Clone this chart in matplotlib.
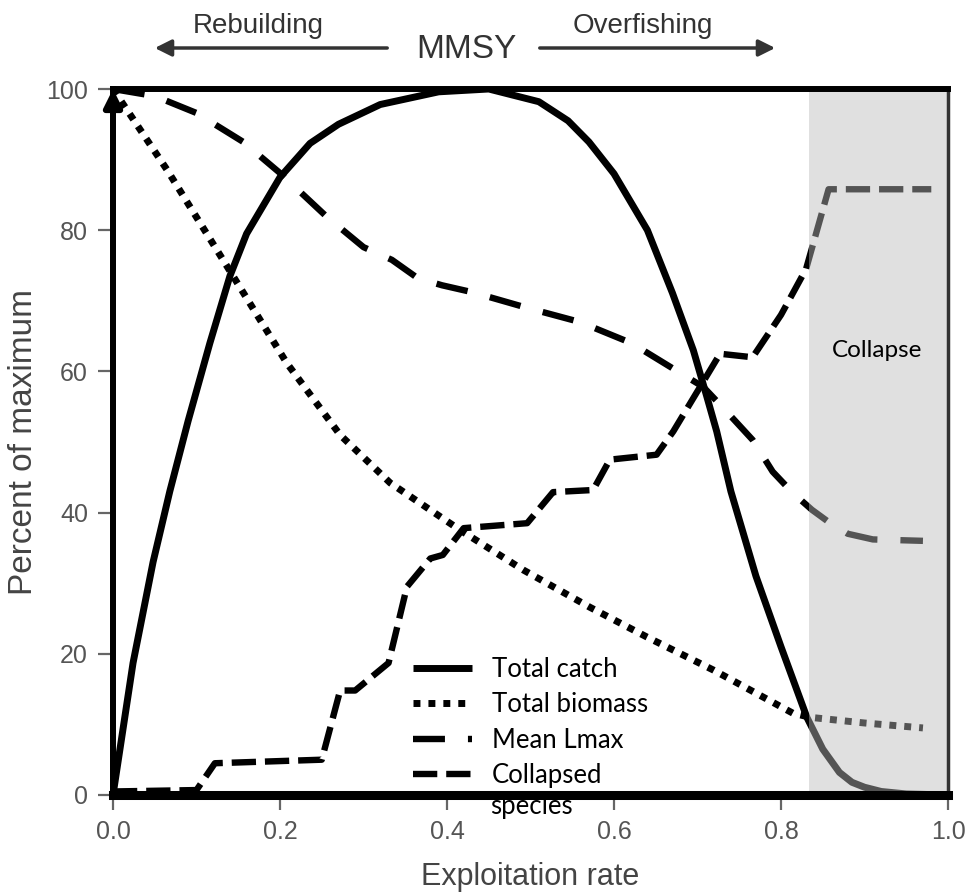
import matplotlib

matplotlib.use("Agg")
import matplotlib.pyplot as plt
from matplotlib.patches import FancyArrowPatch

# ---- data ----
catch_x = [0, 0.024, 0.048, 0.068, 0.09, 0.116, 0.14, 0.16, 0.2, 0.236, 0.27,
           0.32, 0.39, 0.45, 0.51, 0.545, 0.57, 0.6, 0.64, 0.67, 0.695, 0.711,
           0.723, 0.74, 0.77, 0.8, 0.831, 0.85, 0.87, 0.885, 0.9, 0.92, 0.95, 1.0]
catch_y = [0, 18.7, 33, 43, 53, 64, 73.5, 79.5, 87.5, 92.3, 95,
           97.8, 99.6, 100, 98.2, 95.5, 92.5, 88, 80, 71.1, 63, 56.5,
           51.5, 43, 31, 21, 11, 6.5, 3.2, 1.8, 1.1, 0.5, 0.15, 0]

biomass_x = [0, 0.065, 0.137, 0.208, 0.272, 0.332, 0.416, 0.491, 0.571, 0.639,
             0.719, 0.814, 0.835, 0.9, 0.97]
biomass_y = [100, 88.5, 74.8, 61.2, 51, 44.2, 37.5, 31.9, 26.6, 22.4,
             17.7, 11.6, 11, 10.2, 9.5]

lmax_x = [0, 0.05, 0.1, 0.156, 0.2, 0.256, 0.3, 0.334, 0.365, 0.394, 0.431,
          0.496, 0.559, 0.621, 0.679, 0.707, 0.731, 0.766, 0.79, 0.814, 0.837,
          0.859, 0.88, 0.91, 0.97]
lmax_y = [100, 99, 96.6, 92.5, 88.1, 81.9, 77.6, 75.8, 73.2, 72.2, 71.2,
          69, 67, 64, 59.8, 57.8, 54.8, 50.3, 45.8, 42.8, 40.4,
          38.5, 37, 36.2, 36]

collapsed_x = [0, 0.1, 0.122, 0.25, 0.272, 0.29, 0.33, 0.352, 0.38, 0.395, 0.42,
               0.496, 0.527, 0.575, 0.595, 0.651, 0.671, 0.727, 0.766, 0.8, 0.83,
               0.857, 0.98]
collapsed_y = [0.5, 0.7, 4.5, 5.0, 14.8, 14.8, 18.7, 29.5, 33.5, 34, 37.8,
               38.5, 42.9, 43.2, 47.5, 48.2, 51.5, 62.5, 62, 68, 74.5,
               85.8, 85.8]

collapse_start = 0.833
x_ticks = [0.0, 0.2, 0.4, 0.6, 0.8, 1.0]
y_ticks = [0, 20, 40, 60, 80, 100]
legend_labels = ["Total catch", "Total biomass", "Mean Lmax", "Collapsed"]

SANS = ["Liberation Sans", "DejaVu Sans"]
CAL = ["Lato", "DejaVu Sans"]

fig = plt.figure(figsize=(9.71, 8.93), dpi=100)
ax = fig.add_axes([113 / 971, 1 - 795 / 893, 835 / 971, 706 / 893])
ax.set_xlim(0, 1)
ax.set_ylim(0, 100)

# curves
l1, = ax.plot(catch_x, catch_y, color="black", lw=5, solid_capstyle="butt",
              solid_joinstyle="round", zorder=2)
l2, = ax.plot(biomass_x, biomass_y, color="black", lw=5,
              dashes=(1, 1.15), dash_capstyle="butt", zorder=2)
l3, = ax.plot(lmax_x, lmax_y, color="black", lw=4.6,
              dashes=(5, 3.6), dash_capstyle="butt", zorder=2)
l4, = ax.plot(collapsed_x, collapsed_y, color="black", lw=4.6,
              dashes=(3.8, 1.4), dash_capstyle="butt", zorder=2)

# collapse region: translucent grey on top of the lines
ax.axvspan(collapse_start, 1.0, color=(187 / 255,) * 3, alpha=0.455, lw=0,
           zorder=2.2)
ax.text(0.915, 63, "Collapse", ha="center", va="center", fontsize=17.5,
        family=CAL, color="black", zorder=3)

# frame
for side in ["left", "top"]:
    ax.spines[side].set_linewidth(4.3)
    ax.spines[side].set_color("black")
ax.spines["bottom"].set_linewidth(6.5)
ax.spines["bottom"].set_color("black")
ax.spines["right"].set_linewidth(2.5)
ax.spines["right"].set_color("#333333")
ax.annotate("", xy=(0, 100), xytext=(0, 0),
            arrowprops=dict(arrowstyle="-|>", lw=4.3, color="black",
                            mutation_scale=26, shrinkA=0, shrinkB=0),
            annotation_clip=False, zorder=4)

ax.set_xticks(x_ticks)
ax.set_xticklabels([f"{t:.1f}" for t in x_ticks])
ax.set_yticks(y_ticks)
ax.set_yticklabels([str(t) for t in y_ticks])
ax.tick_params(axis="both", length=11, width=1.6, color="#666666",
               labelcolor="#555555", labelsize=18, pad=7)
for lab in ax.get_xticklabels() + ax.get_yticklabels():
    lab.set_family(SANS)

ax.set_xlabel("Exploitation rate", fontsize=22, color="#444444", family=SANS,
              va="center")
ax.set_ylabel("Percent of maximum", fontsize=24, color="#444444", family=SANS,
              va="center", ha="center")
ax.xaxis.set_label_coords(0.5, -0.116)
ax.yaxis.set_label_coords(-0.107, 0.5)

# legend
leg = ax.legend([l1, l2, l3, l4], legend_labels, loc="upper left",
                bbox_to_anchor=(0.332, 0.228), frameon=False,
                handlelength=2.3, handletextpad=0.75, labelspacing=0.4,
                prop={"family": CAL, "size": 18.5})
leg.set_zorder(5)
ax.text(0.452, -0.016, "species", transform=ax.transAxes, ha="left",
        va="center", fontsize=18.5, family=CAL, color="black", zorder=5,
        clip_on=False)

# MMSY header with arrows
fig.text(258 / 971, 1 - 26 / 893, "Rebuilding", ha="center", va="center",
         fontsize=20, color="#333333", family=SANS)
fig.text(643 / 971, 1 - 26 / 893, "Overfishing", ha="center", va="center",
         fontsize=20, color="#333333", family=SANS)
fig.text(466 / 971, 1 - 49 / 893, "MMSY", ha="center", va="center",
         fontsize=24, color="#333333", family=SANS)
arrow_y = 1 - 48 / 893
fig.add_artist(FancyArrowPatch(
    (390 / 971, arrow_y), (152 / 971, arrow_y), transform=fig.transFigure,
    arrowstyle="-|>", mutation_scale=25, lw=2.5, color="#333333"))
fig.add_artist(FancyArrowPatch(
    (537 / 971, arrow_y), (778 / 971, arrow_y), transform=fig.transFigure,
    arrowstyle="-|>", mutation_scale=25, lw=2.5, color="#333333"))

fig.savefig("out.png", dpi=100)
